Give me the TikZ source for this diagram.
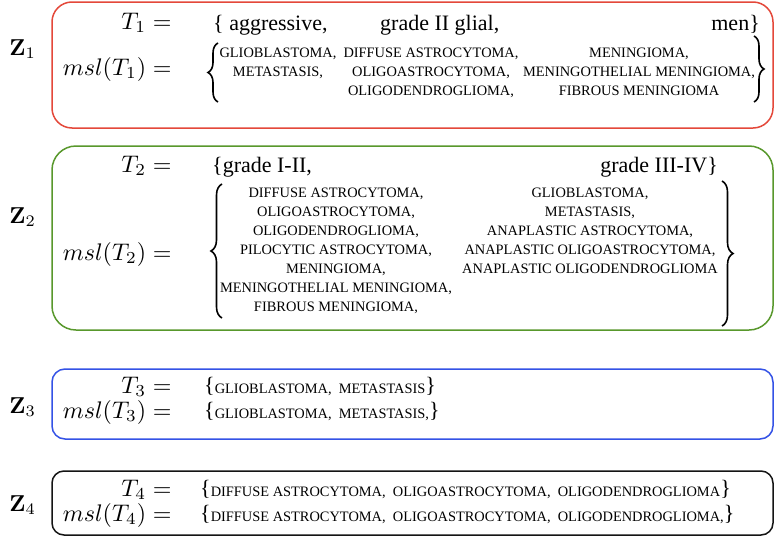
\documentclass[tikz,border=0pt]{standalone}
\usepackage{amsmath}
\usepackage[no-math]{fontspec}
\setmainfont{Liberation Serif}
\usetikzlibrary{decorations.pathreplacing}
\definecolor{zred}{RGB}{228,72,58}
\definecolor{zgreen}{RGB}{88,152,44}
\definecolor{zblue}{RGB}{52,82,230}
\definecolor{zblack}{RGB}{20,20,20}
\newcommand{\Lb}{{\fontsize{22}{22}\selectfont\raisebox{0.8pt}{\{}}}
\newcommand{\Rb}{{\fontsize{22}{22}\selectfont\raisebox{0.8pt}{\}}}}
\tikzset{
  frame/.style={line width=1.5pt},
  curly/.style={line width=1.6pt, decorate, decoration={brace, amplitude=#1}},
  eq/.style={inner sep=0pt, anchor=base east, font=\fontsize{10}{12}\selectfont, scale=2.4},
  zl/.style={inner sep=0pt, anchor=base west, font=\fontsize{10}{12}\selectfont, scale=2.3},
  bigtxt/.style={inner sep=0pt, anchor=base west, font=\fontsize{22}{25}\selectfont},
  caps/.style={inner sep=0pt, anchor=base, font=\fontsize{14.4}{17}\selectfont},
  capsw/.style={inner sep=0pt, anchor=base west, font=\fontsize{14.4}{17}\selectfont},
}
\begin{document}
\begin{tikzpicture}[x=1pt,y=-1pt]
\useasboundingbox (0,0) rectangle (775,538);
\fill[white] (0,0) rectangle (775,538);
% frames
\draw[frame, zred, rounded corners=20pt] (52,2) rectangle (773,128);
\draw[frame, zgreen, rounded corners=24pt] (52,146) rectangle (773,330);
\draw[frame, zblue, rounded corners=13pt] (52,369) rectangle (773,439);
\draw[frame, zblack, rounded corners=12pt] (52,471) rectangle (773,535);
% Z labels
\node[zl] (z1) at (9,55) {$\mathbf{Z}_1$};
\node[zl] (z2) at (9,223) {$\mathbf{Z}_2$};
\node[zl] (z3) at (9,413) {$\mathbf{Z}_3$};
\node[zl] (z4) at (9,511) {$\mathbf{Z}_4$};
% Box 1
\node[eq] (t1) at (172,29) {$T_1 =$};
\node[eq] (m1) at (172,75) {$msl(T_1) =$};
\node[bigtxt] (a1) at (213,30) {\{ aggressive,};
\node[bigtxt] (a2) at (380,30) {grade II glial,};
\node[bigtxt, anchor=base east] (a3) at (760,30) {men\}};
\draw[curly=10pt] (218,102) -- (218,43);
\draw[curly=10pt] (754,36) -- (754,102);
\node[caps] (c11) at (278,57) {GLIOBLASTOMA,};
\node[caps] (c12) at (278,76) {METASTASIS,};
\node[caps] (c21) at (431,57) {DIFFUSE ASTROCYTOMA,};
\node[caps] (c22) at (431,76) {OLIGOASTROCYTOMA,};
\node[caps] (c23) at (431,95) {OLIGODENDROGLIOMA,};
\node[caps] (c31) at (639,57) {MENINGIOMA,};
\node[caps] (c32) at (639,76) {MENINGOTHELIAL MENINGIOMA,};
\node[caps] (c33) at (639,95) {FIBROUS MENINGIOMA};
% Box 2
\node[eq] (t2) at (172,172) {$T_2 =$};
\node[eq] (m2) at (172,260) {$msl(T_2) =$};
\node[bigtxt] (b1) at (212,172) {\{grade I-II,};
\node[bigtxt, anchor=base east] (b2) at (718,172) {grade III-IV\}};
\draw[curly=11pt] (222,318) -- (222,184);
\draw[curly=11pt] (722,181) -- (722,326);
\node[caps] (d1) at (336,197) {DIFFUSE ASTROCYTOMA,};
\node[caps] (d2) at (336,216) {OLIGOASTROCYTOMA,};
\node[caps] (d3) at (336,235) {OLIGODENDROGLIOMA,};
\node[caps] (d4) at (336,254) {PILOCYTIC ASTROCYTOMA,};
\node[caps] (d5) at (336,273) {MENINGIOMA,};
\node[caps] (d6) at (336,292) {MENINGOTHELIAL MENINGIOMA,};
\node[caps] (d7) at (336,311) {FIBROUS MENINGIOMA,};
\node[caps] (e1) at (590,197) {GLIOBLASTOMA,};
\node[caps] (e2) at (590,216) {METASTASIS,};
\node[caps] (e3) at (590,235) {ANAPLASTIC ASTROCYTOMA,};
\node[caps] (e4) at (590,254) {ANAPLASTIC OLIGOASTROCYTOMA,};
\node[caps] (e5) at (590,273) {ANAPLASTIC OLIGODENDROGLIOMA};
% Box 3
\node[eq] (t3) at (172,393) {$T_3 =$};
\node[eq] (m3) at (172,418) {$msl(T_3) =$};
\node[capsw] (f1) at (204,393) {\Lb GLIOBLASTOMA,\ \ METASTASIS\Rb};
\node[capsw] (f2) at (204,418) {\Lb GLIOBLASTOMA,\ \ METASTASIS,\Rb};
% Box 4
\node[eq] (t4) at (172,496) {$T_4 =$};
\node[eq] (m4) at (172,521) {$msl(T_4) =$};
\node[capsw] (g1) at (200,496) {\Lb DIFFUSE ASTROCYTOMA,\ \ OLIGOASTROCYTOMA,\ \ OLIGODENDROGLIOMA\Rb};
\node[capsw] (g2) at (200,521) {\Lb DIFFUSE ASTROCYTOMA,\ \ OLIGOASTROCYTOMA,\ \ OLIGODENDROGLIOMA,\Rb};
\end{tikzpicture}
\end{document}
